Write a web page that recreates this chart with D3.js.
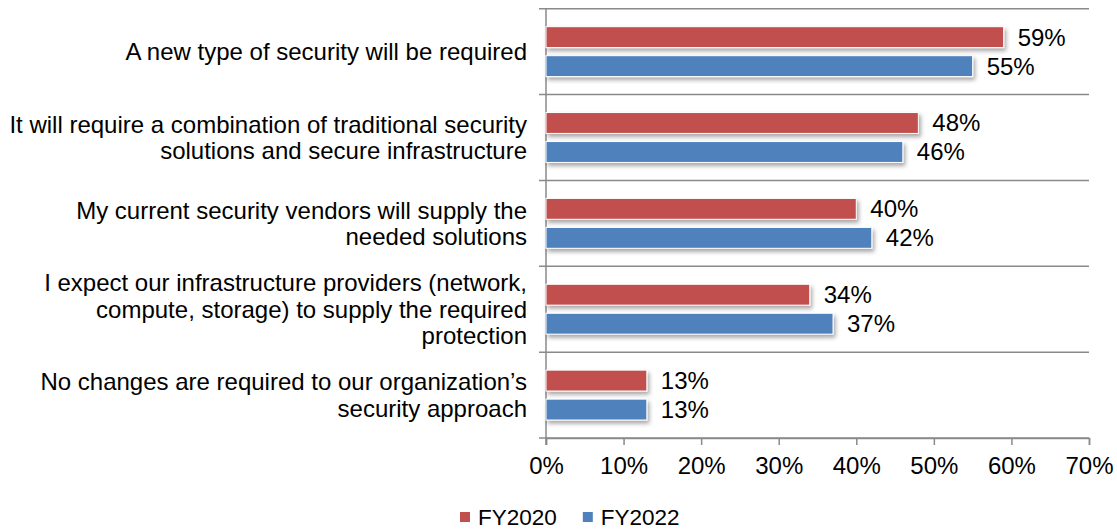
<!DOCTYPE html>
<html>
<head>
<meta charset="utf-8">
<script src="https://cdn.jsdelivr.net/npm/d3@7"></script>
<style>
  html, body { margin: 0; padding: 0; background: #fff; }
  svg text { font-family: "Liberation Sans", Arial, sans-serif; fill: #000; }
</style>
</head>
<body>
<svg id="chart" width="1117" height="529"></svg>
<script>
// Survey responses, share of respondents
const categories = [
  "A new type of security will be required",
  "It will require a combination of traditional security\nsolutions and secure infrastructure",
  "My current security vendors will supply the\nneeded solutions",
  "I expect our infrastructure providers (network,\ncompute, storage) to supply the required\nprotection",
  "No changes are required to our organization\u2019s\nsecurity approach"
];
const seriesNames = ["FY2020", "FY2022"];
const fy2020 = [59, 48, 40, 34, 13];
const fy2022 = [55, 46, 42, 37, 13];
const xTicks = [0, 10, 20, 30, 40, 50, 60, 70];
const colors = ["#C0504D", "#4F81BD"];

const seriesValues = [fy2020, fy2022];

const svg = d3.select("#chart");
const plotLeft = 546, plotRight = 1089, plotTop = 8.7, plotBottom = 438;
const gridColor = "#8a8a8a";

const x = d3.scaleLinear().domain([0, 70]).range([plotLeft, plotRight]);
const y = d3.scaleBand().domain(d3.range(categories.length)).range([plotTop, plotBottom]).padding(0);
const inner = d3.scaleBand().domain(seriesNames).range([0, y.bandwidth()])
  .paddingInner(0.28).paddingOuter(0.62);

// drop shadow for bars
const defs = svg.append("defs");
const f = defs.append("filter").attr("id", "shadow")
  .attr("x", "-5%").attr("y", "-30%").attr("width", "115%").attr("height", "180%");
f.append("feDropShadow").attr("dx", 2).attr("dy", 3).attr("stdDeviation", 2)
  .attr("flood-color", "#000").attr("flood-opacity", 0.35);

// category separators (horizontal gridlines) with outer ticks
const bounds = d3.range(categories.length + 1).map(i => i < categories.length ? y(i) : plotBottom);
svg.append("g").selectAll("line").data(bounds).join("line")
  .attr("x1", plotLeft - 7).attr("x2", plotRight)
  .attr("y1", d => d).attr("y2", d => d)
  .attr("stroke", gridColor).attr("stroke-width", 1.5);

// vertical axis line
svg.append("line").attr("x1", plotLeft).attr("x2", plotLeft).attr("y1", plotTop).attr("y2", plotBottom + 7)
  .attr("stroke", gridColor).attr("stroke-width", 1.5);

// bottom axis
const xAxis = d3.axisBottom(x).tickValues(xTicks).tickFormat(d => d + "%").tickSize(7).tickPadding(12);
const gx = svg.append("g").attr("transform", `translate(0,${plotBottom})`).call(xAxis);
gx.select(".domain").attr("stroke", gridColor).attr("stroke-width", 1.5);
gx.selectAll(".tick line").attr("stroke", gridColor).attr("stroke-width", 1.5);
gx.selectAll(".tick text").attr("font-size", 24).attr("fill", "#000")
  .style("font-family", "'Liberation Sans', Arial, sans-serif");

// category labels
const lineH = 26.5;
categories.forEach((c, i) => {
  const lines = c.split("\n");
  const cy = y(i) + y.bandwidth() / 2;
  const t = svg.append("text").attr("text-anchor", "end").attr("font-size", 24);
  lines.forEach((ln, j) => {
    t.append("tspan").attr("x", 527)
      .attr("y", cy + (j - (lines.length - 1) / 2) * lineH)
      .attr("dy", "0.35em").text(ln);
  });
});

// bars
seriesNames.forEach((s, si) => {
  const g = svg.append("g");
  g.selectAll("rect").data(seriesValues[si]).join("rect")
    .attr("x", x(0))
    .attr("y", (d, i) => y(i) + inner(s))
    .attr("width", d => x(d) - x(0))
    .attr("height", inner.bandwidth())
    .attr("fill", colors[si])
    .attr("stroke", "#fff").attr("stroke-width", 1)
    .attr("filter", "url(#shadow)");
  g.selectAll("text").data(seriesValues[si]).join("text")
    .attr("x", d => x(d) + 14)
    .attr("y", (d, i) => y(i) + inner(s) + inner.bandwidth() / 2)
    .attr("dy", "0.35em")
    .attr("font-size", 24)
    .text(d => d + "%");
});

// legend
const legend = svg.append("g");
let lx = 460;
seriesNames.forEach((s, si) => {
  legend.append("rect").attr("x", lx).attr("y", 512).attr("width", 10).attr("height", 10)
    .attr("fill", colors[si]);
  const t = legend.append("text").attr("x", lx + 18).attr("y", 525).attr("font-size", 22.5).text(s);
  lx += 18 + t.node().getComputedTextLength() + 26;
});
</script>
</body>
</html>
